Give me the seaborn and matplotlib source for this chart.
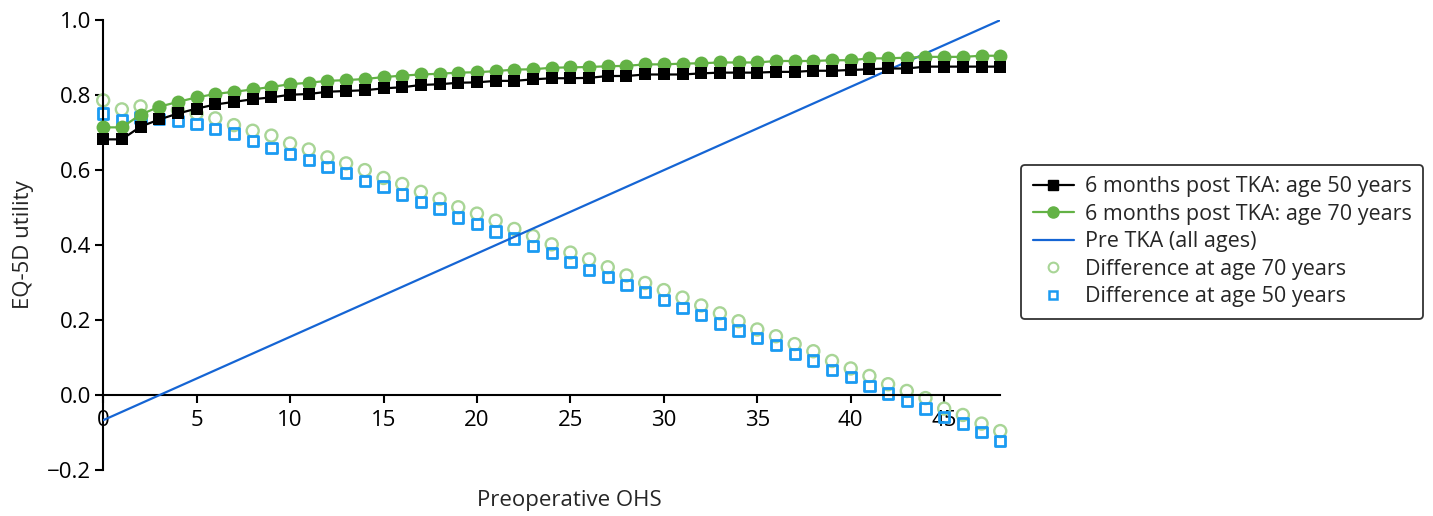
import numpy as np
import pandas as pd
import matplotlib
matplotlib.use("Agg")
import matplotlib.pyplot as plt
import seaborn as sns
from matplotlib.lines import Line2D

sns.set_style("white")
plt.rcParams['font.family'] = ['Open Sans', 'DejaVu Sans']

# Data
ohs = list(range(49))

post_tka_50 = [0.682, 0.682, 0.716, 0.735, 0.751, 0.764, 0.775, 0.782, 0.789, 0.794,
               0.801, 0.803, 0.809, 0.811, 0.813, 0.818, 0.821, 0.827, 0.829, 0.833,
               0.834, 0.838, 0.838, 0.842, 0.845, 0.845, 0.846, 0.851, 0.851, 0.855,
               0.855, 0.855, 0.858, 0.860, 0.860, 0.860, 0.862, 0.862, 0.865, 0.865,
               0.867, 0.869, 0.871, 0.871, 0.876, 0.876, 0.876, 0.876, 0.876]

post_tka_70 = [0.714, 0.714, 0.748, 0.769, 0.782, 0.794, 0.803, 0.809, 0.815, 0.822,
               0.829, 0.833, 0.838, 0.840, 0.843, 0.848, 0.852, 0.855, 0.857, 0.860,
               0.861, 0.864, 0.868, 0.869, 0.873, 0.874, 0.875, 0.877, 0.878, 0.882,
               0.882, 0.884, 0.885, 0.887, 0.887, 0.887, 0.891, 0.891, 0.891, 0.893,
               0.893, 0.898, 0.898, 0.900, 0.902, 0.902, 0.902, 0.905, 0.905]

diff_70 = [0.786, 0.762, 0.770, 0.767, 0.760, 0.751, 0.738, 0.720, 0.705, 0.692,
           0.671, 0.655, 0.634, 0.618, 0.600, 0.579, 0.563, 0.542, 0.523, 0.501,
           0.484, 0.465, 0.443, 0.424, 0.402, 0.380, 0.362, 0.341, 0.319, 0.299,
           0.280, 0.260, 0.239, 0.218, 0.197, 0.175, 0.157, 0.136, 0.117, 0.091,
           0.071, 0.051, 0.029, 0.011, -0.008, -0.036, -0.053, -0.076, -0.096]

diff_50 = [0.751, 0.733, 0.740, 0.736, 0.731, 0.723, 0.709, 0.698, 0.678, 0.659,
           0.643, 0.627, 0.609, 0.593, 0.571, 0.556, 0.535, 0.515, 0.498, 0.474,
           0.456, 0.436, 0.418, 0.397, 0.378, 0.355, 0.333, 0.315, 0.293, 0.274,
           0.253, 0.232, 0.213, 0.191, 0.172, 0.153, 0.133, 0.109, 0.092, 0.067,
           0.048, 0.024, 0.004, -0.015, -0.036, -0.058, -0.076, -0.099, -0.123]

pre_ohs = [0, 48]
pre_tka = [-0.067, 1.0]

labels = ["6 months post TKA: age 50 years", "6 months post TKA: age 70 years",
          "Pre TKA (all ages)", "Difference at age 70 years", "Difference at age 50 years"]

df = pd.DataFrame({"ohs": ohs, "post50": post_tka_50, "post70": post_tka_70,
                   "diff70": diff_70, "diff50": diff_50})
pre_df = pd.DataFrame({"ohs": pre_ohs, "pre": pre_tka})

c_black = "#000000"
c_green = "#63B245"
c_lgreen = "#A8D596"
c_sq = "#1A9BF2"
c_line = "#1565D4"

fig = plt.figure(figsize=(14.33, 5.16), dpi=100)
ax = fig.add_axes([0.072, 0.089, 0.626, 0.872])

sns.scatterplot(data=df, x="ohs", y="diff70", ax=ax, marker="o", s=75,
                facecolors="none", edgecolors=c_lgreen, linewidths=1.7,
                zorder=2, clip_on=False, legend=False)
sns.scatterplot(data=df, x="ohs", y="diff50", ax=ax, marker="s", s=55,
                facecolors="none", edgecolors=c_sq, linewidths=2.0,
                zorder=2, clip_on=False, legend=False)
sns.lineplot(data=pre_df, x="ohs", y="pre", ax=ax, color=c_line, lw=1.6, zorder=3)
sns.lineplot(data=df, x="ohs", y="post70", ax=ax, color=c_green, lw=1.6,
             marker="o", markersize=10, markeredgewidth=0, zorder=4, clip_on=False)
sns.lineplot(data=df, x="ohs", y="post50", ax=ax, color=c_black, lw=1.6,
             marker="s", markersize=9, markeredgewidth=0, zorder=5, clip_on=False)

ax.set_xlim(0, 48)
ax.set_ylim(-0.2, 1.0)
ax.set_xticks(range(0, 46, 5))
yt = np.arange(-0.2, 1.01, 0.2)
ax.set_yticks(yt)
ax.set_yticklabels([f"{v:.1f}".replace("-", "\u2212") for v in yt])

for s in ["top", "right"]:
    ax.spines[s].set_visible(False)
ax.spines["bottom"].set_position(("data", 0))
ax.spines["left"].set_bounds(-0.2, 1.0)
for s in ["left", "bottom"]:
    ax.spines[s].set_linewidth(1.5)
    ax.spines[s].set_color("black")

ax.tick_params(axis="both", direction="out", length=5.5, width=1.5,
               labelsize=16, colors="black", left=True, bottom=True)
ax.tick_params(axis="x", pad=5)
ax.tick_params(axis="y", pad=3)

ax.set_xlabel("Preoperative OHS", fontsize=16, va="center")
ax.set_ylabel("EQ-5D utility", fontsize=16, va="center", ha="center")
ax.xaxis.set_label_coords(0.52, -0.067)
ax.yaxis.set_label_coords(-0.089, 0.5)

handles = [
    Line2D([], [], color=c_black, lw=1.6, marker="s", markersize=7),
    Line2D([], [], color=c_green, lw=1.6, marker="o", markersize=8),
    Line2D([], [], color=c_line, lw=1.6),
    Line2D([], [], color=c_lgreen, lw=0, marker="o", markersize=7,
           markerfacecolor="none", markeredgewidth=1.5),
    Line2D([], [], color=c_sq, lw=0, marker="s", markersize=6,
           markerfacecolor="none", markeredgewidth=1.8),
]
leg = fig.legend(handles, labels, loc="upper left", bbox_to_anchor=(0.7125, 0.681),
                 fontsize=15.5, frameon=True, fancybox=True, handlelength=1.9,
                 handletextpad=0.5, labelspacing=0.3, borderpad=0.55,
                 borderaxespad=0)
leg.get_frame().set_edgecolor("black")
leg.get_frame().set_linewidth(1.3)

fig.savefig("out.png", dpi=100)
